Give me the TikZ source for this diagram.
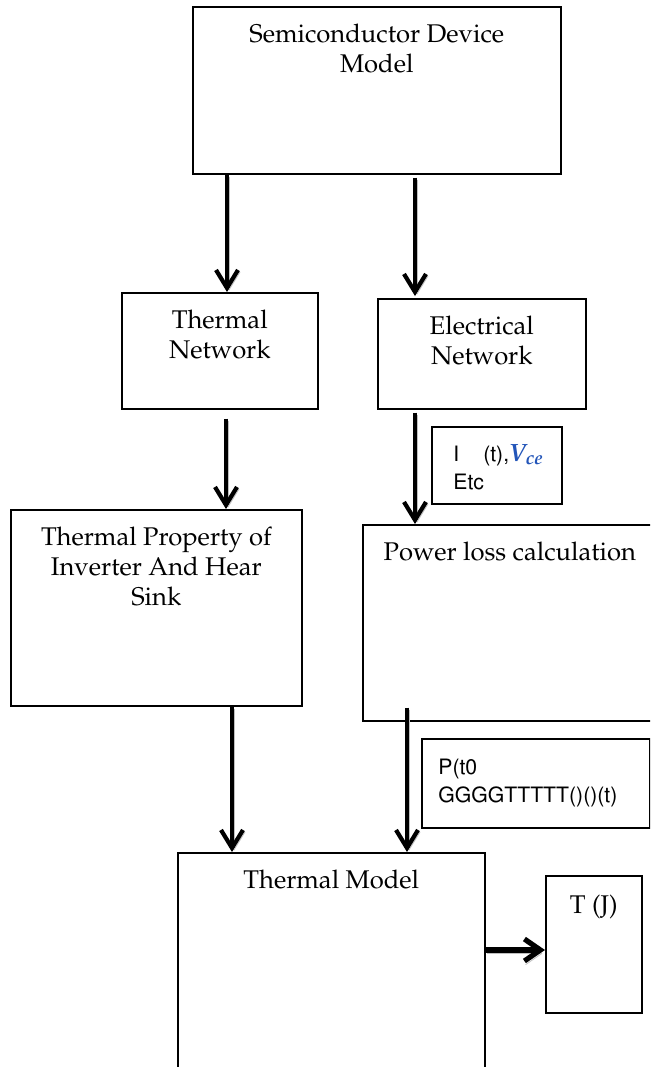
\documentclass[tikz,border=0pt]{standalone}
\usepackage[T1]{fontenc}
\usepackage{mathpazo}
\usepackage{helvet}
\usepackage{xcolor}
\usetikzlibrary{arrows.meta,positioning}

\definecolor{vceblue}{RGB}{35,85,185}

\tikzset{
  blk/.style={draw=black, line width=0.8pt, anchor=north west, inner sep=0pt},
  txt/.style={font=\fontsize{12.8}{15}\selectfont, align=center, inner sep=0pt},
  sftxt/.style={font=\fontsize{10.6}{14}\sffamily\selectfont, align=left, inner sep=0pt},
  arr/.style={line width=2.1pt, -{Straight Barb[length=9pt,width=11pt]},
    preaction={draw=gray!50, transform canvas={shift={(1pt,-1pt)}}}},
  harr/.style={line width=2.6pt, -{Straight Barb[length=8pt,width=11pt]},
    preaction={draw=gray!50, transform canvas={shift={(0.6pt,-1.8pt)}}}},
}

\begin{document}
\begin{tikzpicture}[x=0.5pt, y=-0.5pt]
        % page: 650 x 1067 px, y runs downwards
        \useasboundingbox (0,0) rectangle (650,1067);
        \fill[white] (0,0) rectangle (650,1067);
        \clip (0,0) rectangle (650,1067);

        % Boxes
        \node[blk, minimum width=184pt, minimum height=83.5pt] (semi) at (192,6) {};
        \node[blk, minimum width=98pt, minimum height=58pt] (tnet) at (121,292) {};
        \node[blk, minimum width=104pt, minimum height=55pt] (enet) at (377,298) {};
        \node[blk, minimum width=65pt, minimum height=38.5pt] (ivce) at (431,426) {};
        \node[blk, minimum width=145.5pt, minimum height=98pt] (tprop) at (10,509) {};
        \node[blk, minimum width=147pt, minimum height=98pt] (ploss) at (362,524) {};
        \node[blk, minimum width=114pt, minimum height=44.5pt] (pbox) at (421,738) {};
        \node[blk, minimum width=153.5pt, minimum height=119pt] (tmodel) at (177,852) {};
        \node[blk, minimum width=48pt, minimum height=68.5pt] (tj) at (545,875) {};

        % Box titles
        \node[txt, below=9pt of semi.north] (semi-t) {Semiconductor Device\\Model};
        \node[txt, below=9pt of tnet.north] (tnet-t) {Thermal\\Network};
        \node[txt, below=9pt of enet.north] (enet-t) {Electrical\\Network};
        \node[txt, below=9pt of tprop.north] (tprop-t) {Thermal Property of\\Inverter And Hear\\Sink};
        \node[txt, below=9pt of ploss.north] (ploss-t) {Power loss calculation};
        \node[txt, below=9pt of tmodel.north] (tmodel-t) {Thermal Model};
        \node[txt, below=10pt of tj.north] (tj-t) {T (J)};

        % Signal labels
        \node[sftxt, anchor=north west, below right=9pt and 11pt of ivce.north west] (ivce-t)
            {I\hspace{12pt}(t),{\fontsize{12.5}{14}\rmfamily\bfseries\itshape\color{vceblue}V\textsubscript{ce}}\\Etc};
        \node[sftxt, anchor=north west, below right=10pt and 8.5pt of pbox.north west] (pbox-t)
            {P(t0\\GGGGTTTTT()()(t)};

        % Connectors
        \draw[arr] (semi.south -| 227,0) -- (tnet.north -| 227,0);
        \draw[arr] ([yshift=-1.5pt]semi.south -| 415,0) -- ([yshift=1pt]enet.north -| 415,0);
        \draw[arr] ([yshift=-4.5pt]tnet.south -| 226,0) -- (tprop.north -| 226,0);
        \draw[arr] ([yshift=-1.5pt]enet.south -| 415,0) -- (ploss.north -| 415,0);
        \draw[arr] (tprop.south -| 232,0) -- (tmodel.north -| 232,0);
        \draw[arr] ([yshift=7pt]ploss.south -| 407,0) -- (tmodel.north -| 407,0);
        \draw[harr] (tmodel.east |- 0,950) -- (tj.west |- 0,950);
    \end{tikzpicture}
\end{document}
